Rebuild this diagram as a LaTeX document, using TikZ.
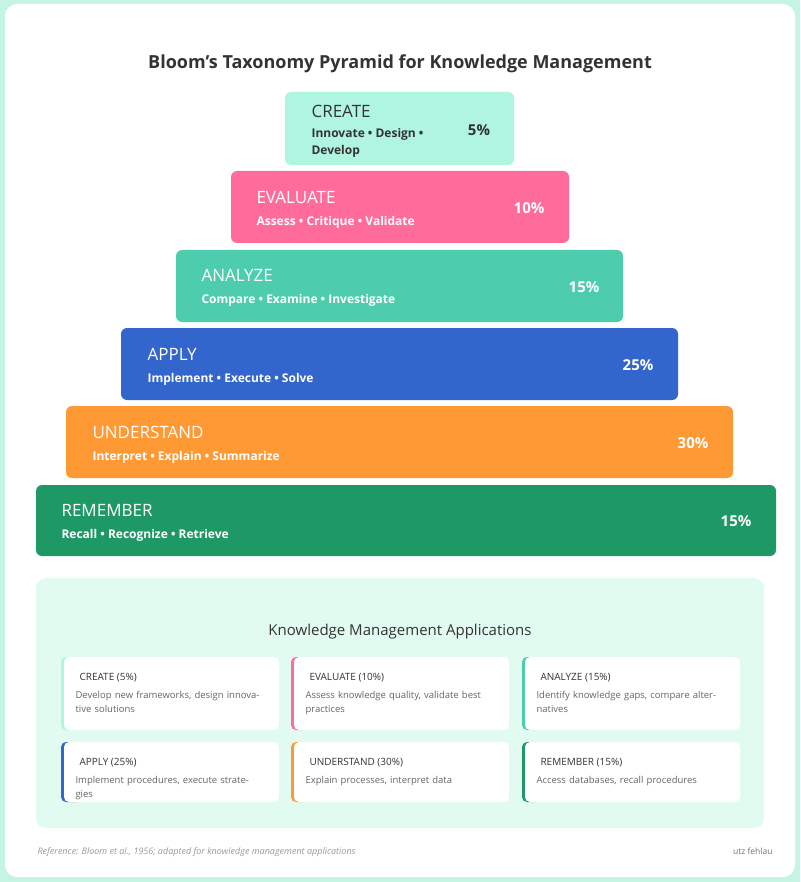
\documentclass[tikz,border=0pt]{standalone}
\usepackage{fontspec}
\setmainfont{Open Sans}
\definecolor{mintbg}{HTML}{C6F4E2}
\definecolor{cCreate}{HTML}{B0F5E0}
\definecolor{cEval}{HTML}{FF6B9A}
\definecolor{cAnalyze}{HTML}{4ECDAE}
\definecolor{cApply}{HTML}{3366CC}
\definecolor{cUnder}{HTML}{FF9933}
\definecolor{cRemember}{HTML}{1E9966}
\definecolor{panel}{HTML}{E2FBF1}
\definecolor{ink}{HTML}{333333}
\tikzset{
  bar/.style={rounded corners=6pt, draw=none},
  lvl/.style={anchor=west, font=\fontsize{17}{20}\selectfont, text=white},
  sub/.style={anchor=west, font=\fontsize{12}{14}\selectfont\bfseries, text=white},
  pct/.style={font=\fontsize{15}{18}\selectfont\bfseries, text=white},
  card/.style={rounded corners=5pt, fill=white, draw=black!6},
  chead/.style={anchor=west, font=\fontsize{10}{12}\selectfont, text=ink},
  cdesc/.style={anchor=north west, align=left, text width=185pt, font=\fontsize{9.5}{14}\selectfont, text=black!60}
}
\begin{document}
\begin{tikzpicture}[x=1pt,y=-1pt]
\fill[mintbg] (0,0) rectangle (800,882);
\fill[white, rounded corners=12pt] (5,4) rectangle (795,877);
\node[font=\fontsize{18}{22}\selectfont\bfseries, text=ink] (title) at (400,64) {Bloom's Taxonomy Pyramid for Knowledge Management};

% pyramid levels
\fill[bar, cCreate] (285,92) rectangle (514,165);
\node[lvl, text=ink] (create) at (308,111) {CREATE};
\node[sub, text=ink, align=left, font=\fontsize{12}{17}\selectfont\bfseries] (createsub) at (308,143) {Innovate • Design •\\Develop};
\node[pct, text=ink] (createpct) at (479,130) {5\%};

\fill[bar, cEval] (231,171) rectangle (569,243);
\node[lvl] (evaluate) at (253,197) {EVALUATE};
\node[sub] (evalsub) at (253,222) {Assess • Critique • Validate};
\node[pct] (evalpct) at (529,208) {10\%};

\fill[bar, cAnalyze] (176,250) rectangle (623,322);
\node[lvl] (analyze) at (198,275) {ANALYZE};
\node[sub] (analyzesub) at (198,300) {Compare • Examine • Investigate};
\node[pct] (analyzepct) at (584,287) {15\%};

\fill[bar, cApply] (121,328) rectangle (678,400);
\node[lvl] (apply) at (144,354) {APPLY};
\node[sub] (applysub) at (144,379) {Implement • Execute • Solve};
\node[pct] (applypct) at (638,365) {25\%};

\fill[bar, cUnder] (66,406) rectangle (733,478);
\node[lvl] (understand) at (89,432) {UNDERSTAND};
\node[sub] (undersub) at (89,457) {Interpret • Explain • Summarize};
\node[pct] (underpct) at (693,443) {30\%};

\fill[bar, cRemember] (36,485) rectangle (776,556);
\node[lvl] (remember) at (58,510) {REMEMBER};
\node[sub] (remsub) at (58,535) {Recall • Recognize • Retrieve};
\node[pct] (rempct) at (736,521) {15\%};

% applications
\fill[panel, rounded corners=10pt] (36,578) rectangle (764,828);
\node[font=\fontsize{15}{18}\selectfont, text=ink] (apptitle) at (400,632) {Knowledge Management Applications};

\foreach \x/\y/\h/\c/\hd/\ds in {
  61/657/73/cCreate/CREATE (5\%)/{Develop new frameworks, design innovative solutions},
  291/657/73/cEval/EVALUATE (10\%)/{Assess knowledge quality, validate best practices},
  522/657/73/cAnalyze/ANALYZE (15\%)/{Identify knowledge gaps, compare alternatives},
  61/742/60/cApply/APPLY (25\%)/{Implement procedures, execute strategies},
  291/742/60/cUnder/UNDERSTAND (30\%)/{Explain processes, interpret data},
  522/742/60/cRemember/REMEMBER (15\%)/{Access databases, recall procedures}}{
  \fill[\c, rounded corners=5pt] (\x,\y) rectangle ++(20,\h);
  \fill[card, draw=none] (\x+3,\y) rectangle ++(215,\h);
  \node[chead] at (\x+15,\y+21) {\hd};
  \node[cdesc] at (\x+11,\y+31) {\ds};
}

% footer
\node[anchor=west, font=\fontsize{9}{11}\selectfont\itshape, text=black!40] (ref) at (34,852) {Reference: Bloom et al., 1956; adapted for knowledge management applications};
\node[anchor=east, font=\fontsize{8.5}{10}\selectfont, text=black!55] (sig) at (776,851) {{\color{mintbg}·} utz fehlau};
\end{tikzpicture}
\end{document}
